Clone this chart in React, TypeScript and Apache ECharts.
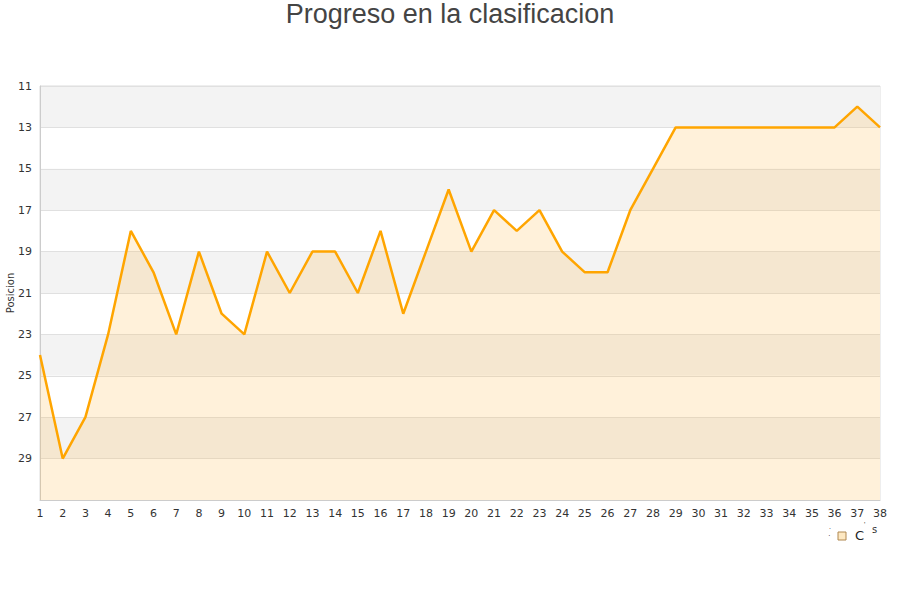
import React, { useEffect, useRef } from "react";
import * as echarts from "echarts";

const jornadas: string[] = Array.from({ length: 38 }, (_, i) => String(i + 1));
const posiciones: number[] = [
  24, 29, 27, 23, 18, 20, 23, 19, 22, 23,
  19, 21, 19, 19, 21, 18, 22, 19, 16, 19,
  17, 18, 17, 19, 20, 20, 17, 15, 13, 13,
  13, 13, 13, 13, 13, 13, 12, 13,
];
const yMin = 11;
const yMax = 31;
const yStep = 2;
const yAxisTitle = "Posicion";

export default function App() {
  const ref = useRef<HTMLDivElement>(null);
  useEffect(() => {
    if (!ref.current) return;
    const chart = echarts.init(ref.current, undefined, { renderer: "svg" });
    const shift = yMin - 10; // align ticks on multiples of the interval
    chart.setOption({
      animation: false,
      title: {
        text: "Progreso en la clasificacion",
        left: "center",
        top: 0,
        padding: [0, 4, 0, 0],
        textStyle: {
          fontFamily: "Liberation Sans, Arial, sans-serif",
          fontSize: 27,
          fontWeight: "normal",
          color: "#444",
        },
      },
      grid: {
        left: 40,
        right: 20,
        top: 86,
        bottom: 100,
        containLabel: false,
        outerBoundsMode: "none",
        show: true,
        borderColor: "#dddddd",
        borderWidth: 1,
        backgroundColor: "transparent",
      },
      xAxis: {
        type: "category",
        data: jornadas,
        boundaryGap: false,
        axisLine: { show: true, lineStyle: { color: "#cccccc" } },
        axisTick: { show: false },
        axisLabel: {
          color: "#333",
          fontSize: 11,
          fontFamily: "DejaVu Sans, sans-serif",
          margin: 8,
          interval: 0,
        },
        splitLine: { show: false },
      },
      yAxis: {
        type: "value",
        inverse: true,
        min: yMin - shift,
        max: yMax - shift,
        interval: yStep,
        axisLine: { show: true, lineStyle: { color: "#cccccc" } },
        axisTick: { show: false },
        axisLabel: {
          color: "#333",
          fontSize: 11,
          fontFamily: "DejaVu Sans, sans-serif",
          margin: 8,
          formatter: (v: number) => (v + shift >= yMax ? "" : String(v + shift)),
        },
        splitLine: { show: true, lineStyle: { color: "#e0e0e0", width: 1 } },
        splitArea: { show: true, areaStyle: { color: ["#f3f3f3", "#ffffff"] } },
      },
      series: [
        {
          type: "line",
          name: "Posicion",
          data: posiciones.map((p) => p - shift),
          symbol: "none",
          lineStyle: { color: "#ffa500", width: 2.5 },
          itemStyle: { color: "#ffa500" },
          areaStyle: { color: "rgba(255,190,80,0.3)", origin: "end" },
        },
      ],
      graphic: [
        {
          type: "text",
          x: 10,
          y: 293,
          rotation: Math.PI / 2,
          style: {
            text: yAxisTitle,
            fontSize: 10,
            fill: "#333",
            fontFamily: "DejaVu Sans, sans-serif",
            align: "center",
            verticalAlign: "middle",
          },
        },
        { type: "text", x: 829, y: 523, style: { text: ".", fontSize: 7, fill: "#333" } },
        { type: "text", x: 828, y: 531, style: { text: "·", fontSize: 8, fill: "#333" } },
        {
          type: "rect",
          shape: { x: 838, y: 532, width: 8, height: 8 },
          style: { fill: "#fde8c2", stroke: "#b08850", lineWidth: 1 },
        },
        { type: "text", x: 855, y: 529, style: { text: "C", fontSize: 13, fill: "#222", fontFamily: "DejaVu Sans, sans-serif" } },
        { type: "text", x: 864, y: 521, style: { text: "'", fontSize: 7, fill: "#333" } },
        { type: "text", x: 872, y: 524, style: { text: "s", fontSize: 10, fill: "#333", fontFamily: "DejaVu Sans, sans-serif" } },
      ],
    });
    return () => chart.dispose();
  }, []);
  return (
    <div
      ref={ref}
      style={{ position: "absolute", left: 0, top: 0, width: 900, height: 600 }}
    />
  );
}
